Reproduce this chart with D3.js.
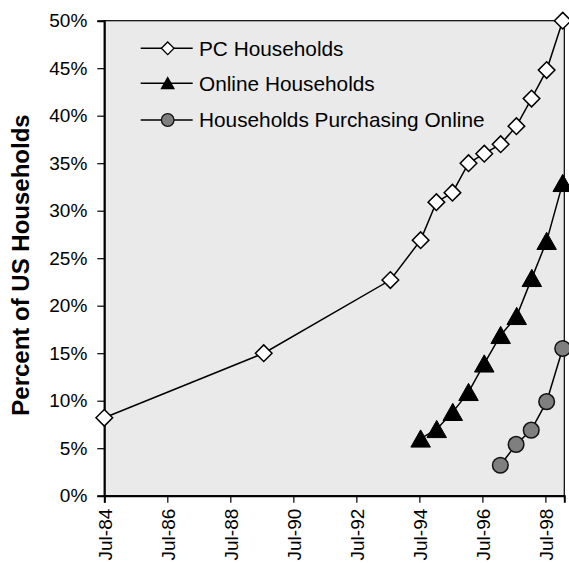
<!DOCTYPE html>
<html>
<head>
<meta charset="utf-8">
<script src="https://cdn.jsdelivr.net/npm/d3@7"></script>
<style>
  html, body { margin: 0; padding: 0; background: #fff; }
  svg { display: block; font-family: Arial, "Liberation Sans", sans-serif; }
</style>
</head>
<body>
<svg id="chart" width="569" height="563"></svg>
<script>
// Share of US households, by survey date (decimal years)
const pcDates = [1984.5, 1989.56, 1993.58, 1994.54, 1995.04, 1995.55, 1996.06, 1996.56, 1997.08, 1997.58, 1998.06, 1998.54, 1999.05];
const pcValues = [8.2, 15.0, 22.7, 26.9, 30.9, 31.9, 35.0, 36.0, 37.0, 38.9, 41.8, 44.8, 50.0];

const onlineDates = [1994.54, 1995.05, 1995.56, 1996.06, 1996.56, 1997.08, 1997.59, 1998.07, 1998.54, 1999.05];
const onlineValues = [6.0, 7.0, 8.8, 10.9, 13.9, 16.9, 18.9, 22.9, 26.8, 32.9];

const buyDates = [1997.07, 1997.57, 1998.05, 1998.54, 1999.05];
const buyValues = [3.2, 5.4, 6.9, 9.9, 15.5];

const seriesNames = ["PC Households", "Online Households", "Households Purchasing Online"];

const xTickValues = [1984.5, 1986.5, 1988.5, 1990.5, 1992.5, 1994.5, 1996.5, 1998.5];
const xTickLabels = ["Jul-84", "Jul-86", "Jul-88", "Jul-90", "Jul-92", "Jul-94", "Jul-96", "Jul-98"];
const yTickValues = [0, 5, 10, 15, 20, 25, 30, 35, 40, 45, 50];

const yTitle = "Percent of US Households";

const svg = d3.select("#chart");
const plot = { left: 104.3, right: 564.3, top: 20.7, bottom: 495.7 };

const x = d3.scaleLinear().domain([1984.5, 1999.1]).range([plot.left, plot.right]);
const y = d3.scaleLinear().domain([0, 50]).range([plot.bottom, plot.top]);

// plot background and frame
svg.append("rect")
  .attr("x", plot.left).attr("y", plot.top)
  .attr("width", plot.right - plot.left).attr("height", plot.bottom - plot.top)
  .attr("fill", "#eaeaea").attr("stroke", "#000").attr("stroke-width", 1.2);

// y axis
const yAxis = svg.append("g")
  .attr("transform", `translate(${plot.left},0)`)
  .call(d3.axisLeft(y).tickValues(yTickValues).tickFormat(d => d + "%").tickSize(7).tickPadding(10));
yAxis.select(".domain").attr("stroke", "#000").attr("stroke-width", 2);
yAxis.selectAll(".tick line").attr("stroke", "#000").attr("stroke-width", 1.2);
yAxis.selectAll(".tick text").attr("font-size", 19).attr("fill", "#000")
  .attr("font-family", "Arial, 'Liberation Sans', sans-serif");

// x axis
const labelOf = new Map(xTickValues.map((v, i) => [v, xTickLabels[i]]));
const xAxis = svg.append("g")
  .attr("transform", `translate(0,${plot.bottom})`)
  .call(d3.axisBottom(x).tickValues(xTickValues).tickFormat(d => labelOf.get(d)).tickSize(7).tickPadding(7));
xAxis.select(".domain").attr("stroke", "#000").attr("stroke-width", 2);
xAxis.selectAll(".tick line").attr("stroke", "#000").attr("stroke-width", 1.2);
xAxis.selectAll(".tick text")
  .attr("font-size", 19).attr("fill", "#000")
  .attr("font-family", "Arial, 'Liberation Sans', sans-serif")
  .attr("transform", "rotate(-90)")
  .attr("text-anchor", "end")
  .attr("x", -13).attr("y", 0).attr("dy", "0.36em");

// y axis title
svg.append("text")
  .attr("transform", "translate(29,265) rotate(-90)")
  .attr("text-anchor", "middle")
  .attr("font-size", 24).attr("font-weight", "bold")
  .attr("fill", "#000")
  .text(yTitle);

// marker shapes
const diamond = s => `M0,${-s}L${s},0L0,${s}L${-s},0Z`;
const triangle = s => `M0,${-s}L${s * 1.05},${s * 0.85}L${-s * 1.05},${s * 0.85}Z`;

function drawSeries(dates, values, kind) {
  const pts = dates.map((d, i) => [x(d), y(values[i])]);
  svg.append("path")
    .attr("d", d3.line()(pts))
    .attr("fill", "none").attr("stroke", "#000").attr("stroke-width", 1.5);
  const g = svg.append("g");
  pts.forEach(p => {
    if (kind === "diamond") {
      g.append("path").attr("d", diamond(8.3)).attr("transform", `translate(${p[0]},${p[1]})`)
        .attr("fill", "#fff").attr("stroke", "#000").attr("stroke-width", 1.5);
    } else if (kind === "triangle") {
      g.append("path").attr("d", triangle(9.3)).attr("transform", `translate(${p[0]},${p[1] + 0.5})`)
        .attr("fill", "#000").attr("stroke", "#000").attr("stroke-width", 1);
    } else {
      g.append("circle").attr("cx", p[0]).attr("cy", p[1]).attr("r", 7.8)
        .attr("fill", "#7f7f7f").attr("stroke", "#111").attr("stroke-width", 1.5);
    }
  });
}

drawSeries(pcDates, pcValues, "diamond");
drawSeries(onlineDates, onlineValues, "triangle");
drawSeries(buyDates, buyValues, "circle");

// legend
const legendKinds = ["diamond", "triangle", "circle"];
const legendRowsY = [48.3, 83.3, 120];
const legend = svg.append("g");
seriesNames.forEach((name, i) => {
  const cy = legendRowsY[i];
  legend.append("line").attr("x1", 140.7).attr("x2", 192.7).attr("y1", cy).attr("y2", cy)
    .attr("stroke", "#000").attr("stroke-width", 1.5);
  if (legendKinds[i] === "diamond") {
    legend.append("path").attr("d", diamond(6.3)).attr("transform", `translate(167.7,${cy})`)
      .attr("fill", "#fff").attr("stroke", "#000").attr("stroke-width", 1.3);
  } else if (legendKinds[i] === "triangle") {
    legend.append("path").attr("d", triangle(7)).attr("transform", `translate(167.7,${cy})`)
      .attr("fill", "#000");
  } else {
    legend.append("circle").attr("cx", 167.7).attr("cy", cy).attr("r", 6.3)
      .attr("fill", "#7f7f7f").attr("stroke", "#111").attr("stroke-width", 1.3);
  }
  legend.append("text").attr("x", 199).attr("y", cy).attr("dy", "0.35em")
    .attr("font-size", 20.8).attr("fill", "#000").text(name);
});
</script>
</body>
</html>
